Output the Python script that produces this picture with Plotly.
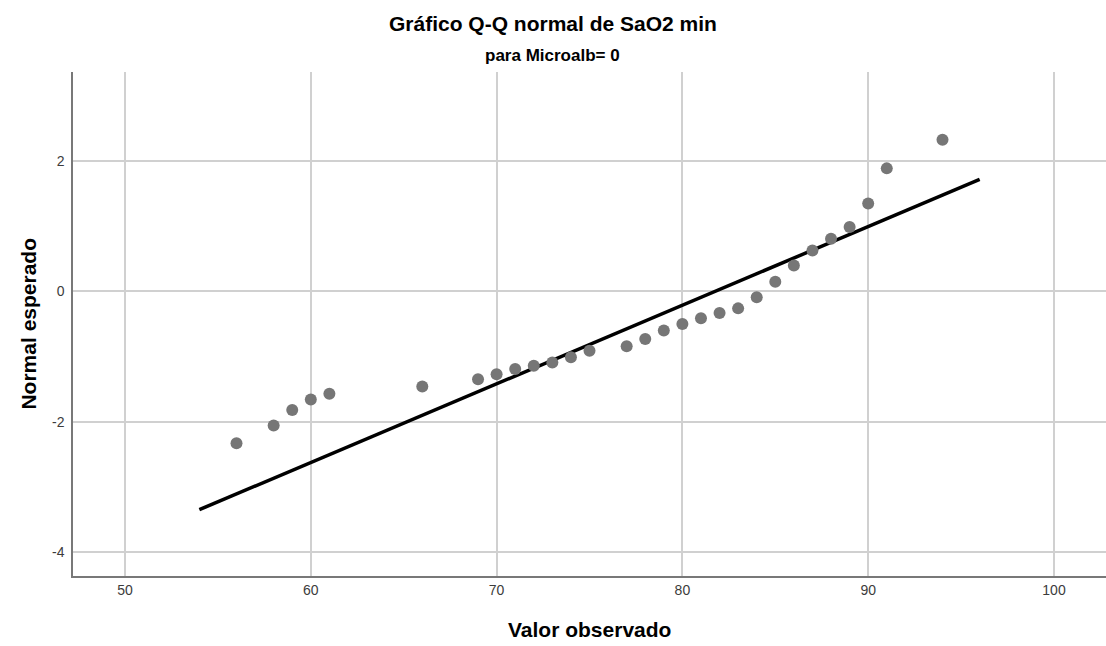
import numpy as np
import plotly.graph_objects as go

# Observed SaO2 min values and their expected normal quantiles
observed = [56, 58, 59, 60, 61, 66, 69, 70, 71, 72, 73, 74, 75, 77, 78,
            79, 80, 81, 82, 83, 84, 85, 86, 87, 88, 89, 90, 91, 94]
expected = [-2.33, -2.06, -1.82, -1.66, -1.57, -1.46, -1.35, -1.27, -1.19,
            -1.14, -1.09, -1.01, -0.91, -0.84, -0.73, -0.60, -0.50, -0.41,
            -0.33, -0.26, -0.09, 0.15, 0.40, 0.63, 0.81, 0.99, 1.35, 1.89, 2.33]

# Reference line of the fitted normal distribution
ref_mean = 81.75
ref_sd = 8.28
ref_x = np.array([54, 96])
ref_y = (ref_x - ref_mean) / ref_sd

x_ticks = [50, 60, 70, 80, 90, 100]
y_ticks = [-4, -2, 0, 2]
y_tick_labels = ["-4", "-2", "0", "2"]

title_text = "Gráfico Q-Q normal de SaO2 min"
subtitle_text = "para Microalb= 0"
x_title = "Valor observado"
y_title = "Normal esperado"

FONT = "Liberation Sans, Arial, sans-serif"

fig = go.Figure()
fig.add_trace(go.Scatter(
    x=ref_x, y=ref_y, mode="lines",
    line=dict(color="black", width=3.5),
    showlegend=False, hoverinfo="skip",
))
fig.add_trace(go.Scatter(
    x=observed, y=expected, mode="markers",
    marker=dict(color="rgb(118,118,118)", size=12, line=dict(width=0)),
    showlegend=False,
))

axis_common = dict(
    showgrid=True, gridcolor="rgb(208,208,208)", gridwidth=1.5,
    showline=True, linecolor="rgb(120,120,120)", linewidth=1.5,
    zeroline=False, ticks="", mirror=False,
    tickfont=dict(family=FONT, size=14, color="rgb(60,60,60)"),
)

fig.update_xaxes(range=[47.2, 102.8], tickvals=x_ticks, **axis_common)
fig.update_yaxes(range=[-4.37, 3.37], tickvals=y_ticks, ticktext=y_tick_labels,
                 ticklabelstandoff=4, **axis_common)

fig.update_layout(
    width=1106, height=646,
    margin=dict(l=73, r=0, t=72, b=70),
    plot_bgcolor="white", paper_bgcolor="white",
    annotations=[
        dict(text=f"<b>{title_text}</b>", xref="paper", yref="paper",
             x=0.4645, y=1.096, showarrow=False, xanchor="center", yanchor="middle",
             font=dict(family=FONT, size=21, color="black")),
        dict(text=f"<b>{subtitle_text}</b>", xref="paper", yref="paper",
             x=0.4645, y=1.033, showarrow=False, xanchor="center", yanchor="middle",
             font=dict(family=FONT, size=17, color="black")),
        dict(text=f"<b>{x_title}</b>", xref="paper", yref="paper",
             x=0.5, y=-0.107, showarrow=False, xanchor="center", yanchor="middle",
             font=dict(family=FONT, size=21, color="black")),
        dict(text=f"<b>{y_title}</b>", xref="paper", yref="paper",
             x=-0.044, y=0.5, showarrow=False, xanchor="center", yanchor="middle",
             textangle=-90,
             font=dict(family=FONT, size=21, color="black")),
    ],
)

fig.write_html("out.html")
